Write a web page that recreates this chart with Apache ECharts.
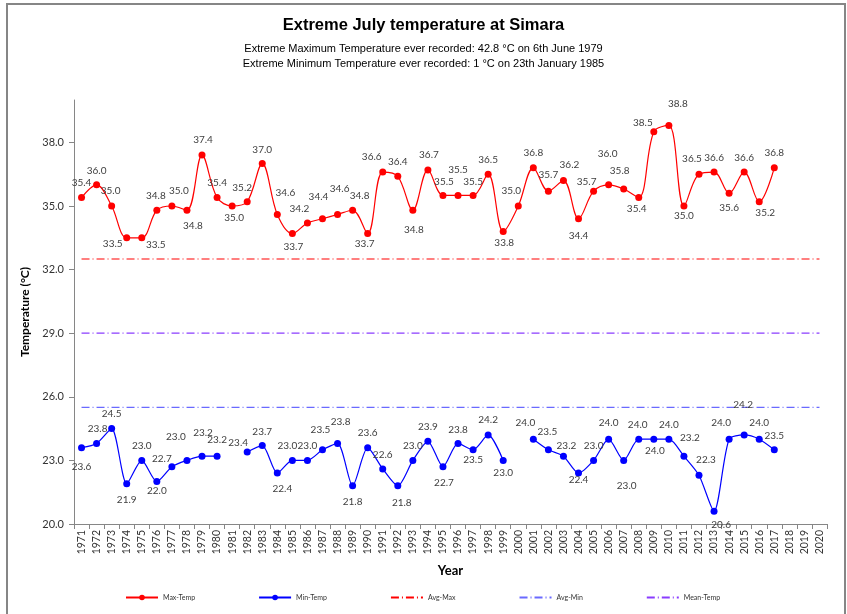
<!DOCTYPE html>
<html><head><meta charset="utf-8">
<script src="https://cdn.jsdelivr.net/npm/echarts@6/dist/echarts.min.js"></script>
<style>html,body{margin:0;padding:0;background:#fff}#c{width:847px;height:614px}</style>
</head><body><div id="c"></div><script>
const years = ['1971','1972','1973','1974','1975','1976','1977','1978','1979','1980',
  '1981','1982','1983','1984','1985','1986','1987','1988','1989','1990',
  '1991','1992','1993','1994','1995','1996','1997','1998','1999','2000',
  '2001','2002','2003','2004','2005','2006','2007','2008','2009','2010',
  '2011','2012','2013','2014','2015','2016','2017','2018','2019','2020'];
const maxTemp = [35.4,36.0,35.0,33.5,33.5,34.8,35.0,34.8,37.4,35.4,
  35.0,35.2,37.0,34.6,33.7,34.2,34.4,34.6,34.8,33.7,
  36.6,36.4,34.8,36.7,35.5,35.5,35.5,36.5,33.8,35.0,
  36.8,35.7,36.2,34.4,35.7,36.0,35.8,35.4,38.5,38.8,
  35.0,36.5,36.6,35.6,36.6,35.2,36.8,null,null,null];
const minTemp = [23.6,23.8,24.5,21.9,23.0,22.0,22.7,23.0,23.2,23.2,
  null,23.4,23.7,22.4,23.0,23.0,23.5,23.8,21.8,23.6,
  22.6,21.8,23.0,23.9,22.7,23.8,23.5,24.2,23.0,null,
  24.0,23.5,23.2,22.4,23.0,24.0,23.0,24.0,24.0,24.0,
  23.2,22.3,20.6,24.0,24.2,24.0,23.5,null,null,null];
const avgMax = 32.5;
const avgMin = 25.5;
const meanTemp = 29.0;

// label placement (style only): [dx, dy] from the point
const maxLabelOffset = [[0,-15],[0,-14],[-1,-15],[-14,6],[14,7],[-1,-14],[7,-15],[6,16],[1,-15],[0,-15],
  [2,12],[-5,-14],[0,-14],[8,-22],[1,13],[-8,-14],[-4,-22],[2,-26],[7,-14],[-3,10],
  [-11,-15],[0,-15],[1,20],[1,-15],[1,-14],[0,-26],[0,-14],[0,-14],[1,11],[-7,-15],
  [0,-15],[0,-16],[6,-16],[0,17],[-7,-9],[-1,-31],[-4,-18],[-2,11],[-11,-9],[9,-22],
  [0,10],[-7,-15],[0,-14],[0,15],[0,-14],[6,11],[0,-15],[0,0],[0,0],[0,0]];
const minLabelOffset = [[0,19],[1,-15],[0,-15],[0,16],[0,-15],[0,9],[-10,-8],[-11,-24],[1,-23],[0,-16],
  [0,0],[-9,-9],[0,-14],[5,16],[-5,-15],[0,-15],[-2,-20],[3,-22],[0,16],[0,-15],
  [0,-14],[4,17],[0,-15],[0,-15],[1,16],[0,-14],[0,10],[0,-15],[0,12],[0,0],
  [-8,-16],[-1,-18],[3,-10],[0,7],[0,-15],[0,-16],[3,25],[-1,-14],[1,12],[0,-14],
  [6,-18],[7,-15],[7,14],[-8,-16],[-1,-30],[0,-16],[0,-14],[0,0],[0,0],[0,0]];

function withLabels(vals, offs) {
  return vals.map((v, i) => v == null ? '-' : { value: v, label: { offset: offs[i] } });
}
const lblFont = 'Lato, "Open Sans", sans-serif';
const dashDot = [8, 3, 1, 3];

const chart = echarts.init(document.getElementById('c'), null, { renderer: 'canvas' });
chart.setOption({
  animation: false,
  backgroundColor: '#fff',
  textStyle: { fontFamily: lblFont },
  graphic: [{
    type: 'rect', silent: true,
    shape: { x: 7, y: 4, width: 838, height: 650 },
    style: { fill: 'none', stroke: '#868686', lineWidth: 2 }
  }],
  title: [
    { text: 'Extreme July temperature at Simara', left: 'center', top: 12,
      textStyle: { fontFamily: '"Liberation Sans", Arial, sans-serif', fontWeight: 'bold', fontSize: 16.5, color: '#000' } },
    { text: 'Extreme Maximum Temperature ever recorded: 42.8 °C on 6th June 1979\nExtreme Minimum Temperature ever recorded: 1 °C on 23th January 1985',
      left: 'center', top: 36,
      textStyle: { fontFamily: '"Liberation Sans", Arial, sans-serif', fontWeight: 'normal', fontSize: 11, color: '#000', lineHeight: 15 } }
  ],
  legend: {
    left: 120, top: 589, itemWidth: 32, itemHeight: 7, itemGap: 63,
    textStyle: { fontSize: 7, color: '#333', fontFamily: lblFont },
    data: ['Max-Temp', 'Min-Temp',
      { name: 'Avg-Max', itemStyle: { opacity: 0 } },
      { name: 'Avg-Min', itemStyle: { opacity: 0 } },
      { name: 'Mean-Temp', itemStyle: { opacity: 0 } }]
  },
  grid: { left: 74, right: 20, top: 100, bottom: 90 },
  xAxis: {
    type: 'category', data: years, boundaryGap: true,
    name: 'Year', nameLocation: 'middle', nameGap: 40,
    nameTextStyle: { fontWeight: 'bold', fontSize: 13, color: '#000', fontFamily: lblFont },
    axisLine: { lineStyle: { color: '#868686', width: 1 } },
    axisTick: { show: true, length: 5, lineStyle: { color: '#868686' } },
    axisLabel: { rotate: 90, interval: 0, fontSize: 10.5, color: '#333', margin: 6 },
    splitLine: { show: false }
  },
  yAxis: {
    type: 'value', min: 20, max: 40, interval: 3,
    name: 'Temperature (°C)', nameLocation: 'middle', nameGap: 42,
    nameTextStyle: { fontWeight: 'bold', fontSize: 12, color: '#000', fontFamily: lblFont },
    axisLine: { show: true, lineStyle: { color: '#868686', width: 1 } },
    axisTick: { show: true, length: 5, lineStyle: { color: '#868686' } },
    axisLabel: { fontSize: 11, color: '#333', margin: 10, showMaxLabel: false,
      formatter: v => v.toFixed(1) },
    splitLine: { show: false }
  },
  series: [
    { name: 'Max-Temp', type: 'line', data: withLabels(maxTemp, maxLabelOffset),
      smooth: 0.35, symbol: 'circle', symbolSize: 7, color: '#ff0000',
      lineStyle: { color: '#ff0000', width: 1.2 }, itemStyle: { color: '#ff0000' },
      label: { show: true, position: 'inside', fontSize: 10, color: '#404040', fontFamily: lblFont,
        formatter: p => Number(p.value).toFixed(1) }, z: 5 },
    { name: 'Min-Temp', type: 'line', data: withLabels(minTemp, minLabelOffset),
      smooth: 0.25, connectNulls: false, symbol: 'circle', symbolSize: 7, color: '#0000ff',
      lineStyle: { color: '#0000ff', width: 1.2 }, itemStyle: { color: '#0000ff' },
      label: { show: true, position: 'inside', fontSize: 10, color: '#404040', fontFamily: lblFont,
        formatter: p => Number(p.value).toFixed(1) }, z: 5 },
    { name: 'Avg-Max', type: 'line', symbol: 'none', color: '#ff0000',
      data: [[years[0], avgMax], [years[years.length - 1], avgMax]],
      lineStyle: { color: '#ff0000', width: 1.2, type: dashDot } },
    { name: 'Avg-Min', type: 'line', symbol: 'none', color: '#6a6aff',
      data: [[years[0], avgMin], [years[years.length - 1], avgMin]],
      lineStyle: { color: '#6a6aff', width: 1.2, type: dashDot } },
    { name: 'Mean-Temp', type: 'line', symbol: 'none', color: '#8a3cff',
      data: [[years[0], meanTemp], [years[years.length - 1], meanTemp]],
      lineStyle: { color: '#8a3cff', width: 1.2, type: dashDot } }
  ]
});
</script></body></html>
